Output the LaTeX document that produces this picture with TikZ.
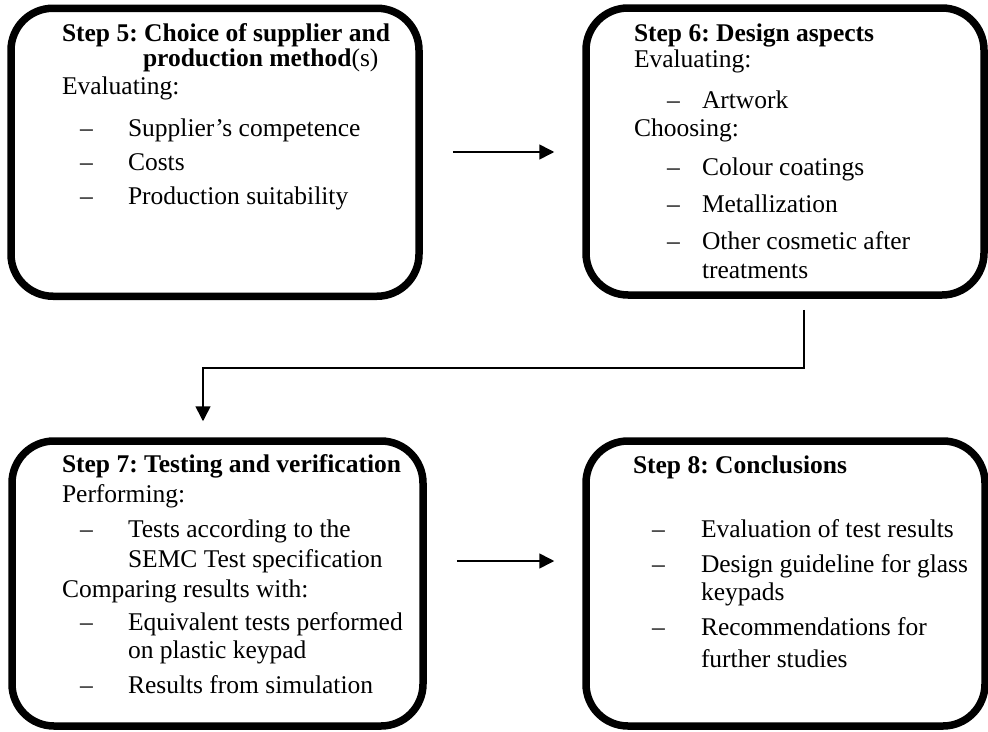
\documentclass[tikz,border=0pt]{standalone}
\usepackage{fontspec}
\setmainfont{Liberation Serif}
\usetikzlibrary{arrows.meta}
\tikzset{
  box/.style={draw=black, line width=7.5pt, rounded corners=42pt, rectangle, inner sep=0pt, fill=white},
  txt/.style={anchor=base west, inner sep=0pt, outer sep=0pt, font=\fontsize{25.5}{29}\selectfont\frenchspacing},
  arr/.style={draw=black, line width=1.6pt, -{Triangle[length=15pt,width=15pt]}}
}
\newcommand{\tl}[4]{\node[txt] (#1) at (#2,#3) {#4};}
\newcommand{\dl}[3]{\node[txt] (#1) at (#2,#3) {–};}
\begin{document}
\begin{tikzpicture}[x=1pt,y=-1pt]
\useasboundingbox (0,0) rectangle (988,731);
% boxes
\node[box, minimum width=408pt, minimum height=288pt] (s5) at (215,152.25) {};
\node[box, minimum width=398pt, minimum height=287pt] (s6) at (785,151.5) {};
\node[box, minimum width=411pt, minimum height=285pt] (s7) at (217.5,583.5) {};
\node[box, minimum width=399pt, minimum height=285pt] (s8) at (785.5,583.5) {};
% step 5
\tl{a1}{62}{41}{\textbf{Step 5: Choice of supplier and}}
\tl{a2}{143}{66}{\textbf{production method}(s)}
\tl{a3}{62}{94}{Evaluating:}
\dl{ad1}{80}{136}\tl{a4}{128}{136}{Supplier’s competence}
\dl{ad2}{80}{170}\tl{a5}{128}{170}{Costs}
\dl{ad3}{80}{204}\tl{a6}{128}{204}{Production suitability}
% step 6
\tl{b1}{634}{41}{\textbf{Step 6: Design aspects}}
\tl{b2}{634}{67}{Evaluating:}
\dl{bd1}{667}{108}\tl{b3}{702}{108}{Artwork}
\tl{b4}{634}{136}{Choosing:}
\dl{bd2}{667}{175}\tl{b5}{702}{175}{Colour coatings}
\dl{bd3}{667}{212}\tl{b6}{702}{212}{Metallization}
\dl{bd4}{667}{249}\tl{b7}{702}{249}{Other cosmetic after}
\tl{b8}{702}{278}{treatments}
% step 7
\tl{c1}{62}{472}{\textbf{Step 7: Testing and verification}}
\tl{c2}{62}{502}{Performing:}
\dl{cd1}{80}{537}\tl{c3}{128}{537}{Tests according to the}
\tl{c4}{128}{567}{SEMC Test specification}
\tl{c5}{62}{597}{Comparing results with:}
\dl{cd2}{80}{630}\tl{c6}{128}{630}{Equivalent tests performed}
\tl{c7}{128}{658}{on plastic keypad}
\dl{cd3}{80}{693}\tl{c8}{128}{693}{Results from simulation}
% step 8
\tl{d1}{633}{473}{\textbf{Step 8: Conclusions}}
\dl{dd1}{652}{537}\tl{d2}{701}{537}{Evaluation of test results}
\dl{dd2}{652}{572}\tl{d3}{701}{572}{Design guideline for glass}
\tl{d4}{701}{600}{keypads}
\dl{dd3}{652}{635}\tl{d5}{701}{635}{Recommendations for}
\tl{d6}{701}{667}{further studies}
% connectors
\coordinate (y1) at (0,152);
\coordinate (y2) at (0,561);
\coordinate (e1) at (804,368);
\coordinate (e2) at (203,368);
\draw[arr, shorten <=30pt, shorten >=28pt] (s5.east |- y1) -- (s6.west |- y1);
\draw[arr, shorten <=30pt, shorten >=28pt] (s7.east |- y2) -- (s8.west |- y2);
\draw[arr, shorten <=11pt, shorten >=16pt] (s6.south -| e1) -- (e1) -- (e2) -- (s7.north -| e2);
\end{tikzpicture}
\end{document}
